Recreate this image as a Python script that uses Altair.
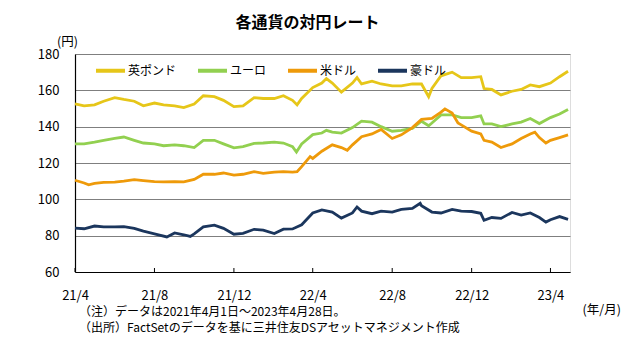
import altair as alt
import pandas as pd

FONT = "Noto Sans CJK JP"

title_text = "各通貨の対円レート"
y_unit = "(円)"
x_unit = "(年/月)"
notes_lines = [
    "（注）データは2021年4月1日～2023年4月28日。",
    "（出所）FactSetのデータを基に三井住友DSアセットマネジメント作成",
]

series_names = ["英ポンド", "ユーロ", "米ドル", "豪ドル"]
series_colors = ["#E6C619", "#92D050", "#EE9A0A", "#1B365D"]

tick_dates = ["2021-04-01", "2021-08-01", "2021-12-01", "2022-04-01",
              "2022-08-01", "2022-12-01", "2023-04-01"]
tick_labels = ["21/4", "21/8", "21/12", "22/4", "22/8", "22/12", "23/4"]
y_ticks = [60, 80, 100, 120, 140, 160, 180]

gbp_dates = ["2021-04-01", "2021-04-15", "2021-05-01", "2021-05-15", "2021-06-01", "2021-06-15",
             "2021-07-01", "2021-07-15", "2021-08-01", "2021-08-15", "2021-09-01", "2021-09-15",
             "2021-10-01", "2021-10-15", "2021-11-01", "2021-11-15", "2021-12-01", "2021-12-15",
             "2022-01-01", "2022-01-15", "2022-02-01", "2022-02-15", "2022-03-01", "2022-03-08",
             "2022-03-15", "2022-04-01", "2022-04-15", "2022-04-22", "2022-05-01", "2022-05-15",
             "2022-06-01", "2022-06-08", "2022-06-15", "2022-07-01", "2022-07-15", "2022-08-01",
             "2022-08-15", "2022-09-01", "2022-09-15", "2022-09-26", "2022-10-01", "2022-10-15",
             "2022-11-01", "2022-11-15", "2022-12-01", "2022-12-15", "2022-12-20", "2023-01-01",
             "2023-01-15", "2023-02-01", "2023-02-15", "2023-03-01", "2023-03-15", "2023-04-01",
             "2023-04-15", "2023-04-28"]
gbp_values = [152.5, 151.5, 152.0, 154.0, 156.0, 155.0,
              154.0, 151.5, 153.0, 152.0, 151.5, 150.5,
              152.5, 157.0, 156.5, 154.5, 151.0, 151.5,
              156.0, 155.5, 155.5, 157.0, 154.5, 152.0,
              155.5, 161.5, 164.0, 166.5, 164.0, 159.0,
              164.0, 167.0, 163.5, 165.0, 163.5, 162.5,
              162.5, 163.5, 163.5, 156.5, 161.0, 168.0,
              170.0, 167.0, 167.0, 167.5, 161.0, 160.5,
              157.5, 159.5, 160.5, 163.0, 162.0, 164.0,
              167.5, 170.5]

eur_dates = ["2021-04-01", "2021-04-15", "2021-05-01", "2021-05-15", "2021-06-01", "2021-06-15",
             "2021-07-01", "2021-07-15", "2021-08-01", "2021-08-15", "2021-09-01", "2021-09-15",
             "2021-10-01", "2021-10-15", "2021-11-01", "2021-11-15", "2021-12-01", "2021-12-15",
             "2022-01-01", "2022-01-15", "2022-02-01", "2022-02-15", "2022-03-01", "2022-03-07",
             "2022-03-15", "2022-04-01", "2022-04-15", "2022-04-22", "2022-05-01", "2022-05-15",
             "2022-06-01", "2022-06-15", "2022-07-01", "2022-07-15", "2022-08-01", "2022-08-15",
             "2022-09-01", "2022-09-15", "2022-09-26", "2022-10-01", "2022-10-15", "2022-11-01",
             "2022-11-15", "2022-12-01", "2022-12-15", "2022-12-20", "2023-01-01", "2023-01-15",
             "2023-02-01", "2023-02-15", "2023-03-01", "2023-03-15", "2023-04-01", "2023-04-15",
             "2023-04-28"]
eur_values = [130.5, 130.5, 131.5, 132.5, 133.5, 134.3,
              132.5, 131.0, 130.5, 129.5, 130.0, 129.5,
              128.5, 132.5, 132.5, 130.5, 128.3, 129.0,
              130.8, 131.0, 131.5, 131.0, 129.0, 126.0,
              130.5, 135.6, 136.5, 138.0, 137.0, 136.5,
              139.5, 143.0, 142.5, 140.0, 137.5, 138.0,
              139.0, 143.0, 140.5, 142.0, 146.5, 146.5,
              145.0, 145.0, 146.0, 141.5, 141.5, 140.0,
              141.5, 142.5, 144.5, 141.7, 145.0, 147.0,
              149.5]

usd_dates = ["2021-04-01", "2021-04-15", "2021-04-22", "2021-05-01", "2021-05-15", "2021-06-01",
             "2021-06-15", "2021-07-01", "2021-07-15", "2021-08-01", "2021-08-15", "2021-09-01",
             "2021-09-15", "2021-10-01", "2021-10-15", "2021-11-01", "2021-11-15", "2021-12-01",
             "2021-12-15", "2022-01-01", "2022-01-15", "2022-02-01", "2022-02-15", "2022-03-01",
             "2022-03-08", "2022-03-15", "2022-03-28", "2022-04-01", "2022-04-15", "2022-05-01",
             "2022-05-15", "2022-05-24", "2022-06-01", "2022-06-15", "2022-07-01", "2022-07-15",
             "2022-08-01", "2022-08-15", "2022-09-01", "2022-09-15", "2022-10-01", "2022-10-15",
             "2022-10-21", "2022-11-01", "2022-11-10", "2022-11-15", "2022-12-01", "2022-12-15",
             "2022-12-20", "2023-01-01", "2023-01-15", "2023-02-01", "2023-02-15", "2023-03-01",
             "2023-03-08", "2023-03-15", "2023-03-25", "2023-04-01", "2023-04-15", "2023-04-28"]
usd_values = [110.5, 109.0, 108.0, 108.8, 109.3, 109.5,
              110.0, 110.8, 110.3, 109.8, 109.6, 109.8,
              109.6, 111.0, 113.8, 113.8, 114.5, 113.3,
              113.8, 115.2, 114.3, 115.0, 115.2, 115.0,
              115.2, 118.0, 123.5, 122.5, 126.5, 130.0,
              128.5, 127.0, 130.0, 134.5, 136.0, 138.5,
              133.5, 135.5, 139.5, 144.0, 144.5, 148.0,
              149.8, 147.5, 142.0, 141.0, 137.5, 136.0,
              132.5, 131.5, 128.5, 130.5, 133.5, 136.0,
              137.0, 134.0, 131.0, 132.5, 134.0, 135.5]

aud_dates = ["2021-04-01", "2021-04-15", "2021-05-01", "2021-05-15", "2021-06-01", "2021-06-15",
             "2021-07-01", "2021-07-15", "2021-08-01", "2021-08-20", "2021-09-01", "2021-09-15",
             "2021-09-25", "2021-10-01", "2021-10-15", "2021-11-01", "2021-11-15", "2021-12-01",
             "2021-12-15", "2022-01-01", "2022-01-15", "2022-02-01", "2022-02-15", "2022-03-01",
             "2022-03-15", "2022-04-01", "2022-04-15", "2022-05-01", "2022-05-15", "2022-06-01",
             "2022-06-08", "2022-06-15", "2022-07-01", "2022-07-15", "2022-08-01", "2022-08-15",
             "2022-09-01", "2022-09-13", "2022-09-15", "2022-10-01", "2022-10-15", "2022-11-01",
             "2022-11-15", "2022-12-01", "2022-12-15", "2022-12-20", "2023-01-01", "2023-01-15",
             "2023-02-01", "2023-02-15", "2023-03-01", "2023-03-15", "2023-03-25", "2023-04-01",
             "2023-04-15", "2023-04-28"]
aud_values = [84.2, 83.8, 85.3, 84.8, 84.8, 85.0,
              84.0, 82.5, 81.0, 79.3, 81.5, 80.5,
              79.6, 81.0, 84.8, 85.8, 84.0, 80.8,
              81.3, 83.5, 83.0, 81.2, 83.6, 83.7,
              86.0, 92.5, 94.2, 93.0, 89.7, 92.5,
              95.8, 93.5, 92.1, 93.5, 93.0, 94.5,
              95.0, 97.8, 96.5, 93.0, 92.5, 94.5,
              93.5, 93.3, 92.3, 88.5, 90.0, 89.5,
              92.8, 91.3, 92.5, 90.0, 87.5, 88.8,
              90.5, 89.0]

frames = []
for name, d, v in zip(series_names,
                      [gbp_dates, eur_dates, usd_dates, aud_dates],
                      [gbp_values, eur_values, usd_values, aud_values]):
    frames.append(pd.DataFrame({"date": d, "value": v, "currency": name}))
df = pd.concat(frames, ignore_index=True)

# label expression from tick arrays
label_expr = "''"
for d, lab in zip(reversed(tick_dates), reversed(tick_labels)):
    ms = int(pd.Timestamp(d, tz="UTC").timestamp() * 1000)
    label_expr = f"(datum.value == {ms} ? '{lab}' : {label_expr})"

x_scale = alt.Scale(type="utc", domain=[alt.DateTime(year=2021, month=4, date=1, utc=True),
                                        alt.DateTime(year=2023, month=5, date=1, utc=True)])
tick_values = [alt.DateTime(year=int(d[:4]), month=int(d[5:7]), date=1, utc=True) for d in tick_dates]

W, H = 495, 218

lines = alt.Chart(df).mark_line(strokeWidth=2.8).encode(
    x=alt.X("date:T", scale=x_scale,
            axis=alt.Axis(values=tick_values, labelExpr=label_expr, title=x_unit,
                          titleX=507, titleY=37, titleAlign="left", titleBaseline="middle",
                          titleFontWeight="normal", titleFontSize=12.5, titleFont=FONT,
                          titleColor="#000000",
                          ticks=False, grid=False, labelPadding=17, labelFlush=False,
                          labelOverlap=False, labelFontSize=13, labelFont=FONT,
                          labelColor="#000000", domainColor="#000000", domainWidth=1.2)),
    y=alt.Y("value:Q", scale=alt.Scale(domain=[60, 180], nice=False, zero=False),
            axis=alt.Axis(values=y_ticks, title=y_unit, titleAngle=0, titleX=-8, titleY=-13,
                          titleAlign="center", titleBaseline="middle", titleFontWeight="normal",
                          titleFontSize=12.5, titleFont=FONT, titleColor="#000000",
                          ticks=False, grid=True, gridColor="#7f7f7f", gridWidth=1,
                          labelPadding=16, labelFontSize=13, labelFont=FONT, labelColor="#000000",
                          domainColor="#000000", domainWidth=1.2)),
    color=alt.Color("currency:N", sort=series_names,
                    scale=alt.Scale(domain=series_names, range=series_colors),
                    legend=alt.Legend(orient="none", legendX=19, legendY=0, direction="horizontal",
                                      title=None, symbolType="stroke", symbolStrokeWidth=4,
                                      symbolSize=841, labelFont=FONT, labelFontSize=12,
                                      labelColor="#000000", labelOffset=1, columnPadding=13,
                                      padding=0)),
    order=alt.Order("date:T"),
)

tick_df = pd.DataFrame({"date": tick_dates})
inner_ticks = alt.Chart(tick_df).mark_rule(color="#000000", strokeWidth=1).encode(
    x=alt.X("date:T"), y=alt.value(H), y2=alt.value(H - 4))

note1 = alt.Chart(pd.DataFrame({"note": [notes_lines[0]]})).mark_text(
    align="left", baseline="middle", font=FONT, fontSize=12, color="#000000").encode(
    x=alt.value(4), y=alt.value(258), text="note:N")
note2 = alt.Chart(pd.DataFrame({"note": [notes_lines[1]]})).mark_text(
    align="left", baseline="middle", font=FONT, fontSize=12, color="#000000").encode(
    x=alt.value(4), y=alt.value(274), text="note:N")

chart = alt.layer(lines, inner_ticks, note1, note2).properties(
    width=W, height=H,
    title=alt.TitleParams(title_text, fontSize=16, fontWeight="bold", font=FONT, color="#000000",
                          anchor="middle", frame="group", dx=-15, offset=4),
    autosize=alt.AutoSizeParams(type="none"),
    padding={"left": 75, "top": 54, "right": 70, "bottom": 69},
).configure_view(stroke="#000000", strokeWidth=1.2).configure(background="white")

chart.save("out.html", embed_options={"renderer": "svg", "actions": False})
